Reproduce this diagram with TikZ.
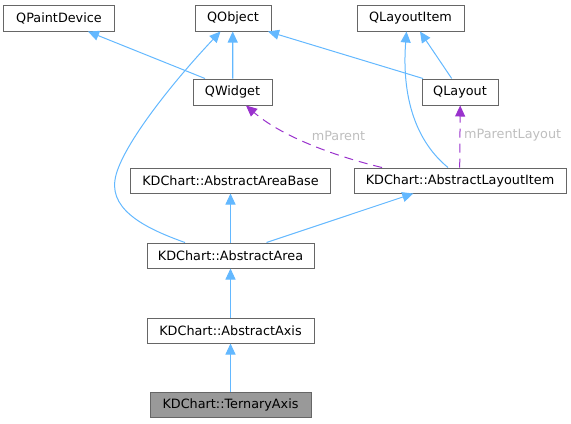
\documentclass[tikz,border=0pt]{standalone}
\usepackage{fontspec}
\setmainfont{DejaVu Sans}
\usetikzlibrary{arrows.meta}
\definecolor{edgeblue}{HTML}{63B8FF}
\definecolor{edgepurple}{HTML}{9A32CD}
\definecolor{boxgray}{HTML}{666666}
\definecolor{labelgray}{HTML}{BEBEBE}
\definecolor{fillgray}{HTML}{999999}
\tikzset{
  cls/.style={draw=boxgray, line width=1bp, inner sep=0pt, minimum height=26bp, font=\fontsize{12.8bp}{14bp}\selectfont, text=black},
  inh/.style={draw=edgeblue, line width=1bp, -{Triangle[length=11bp,width=10bp,fill=edgeblue]}},
  usage/.style={draw=edgepurple, line width=1bp, dash pattern=on 9bp off 6bp, -{Triangle[length=11bp,width=10bp,fill=edgepurple]}},
  elabel/.style={text=labelgray, font=\fontsize{12.8bp}{14bp}\selectfont, inner sep=0pt}
}
\begin{document}
\begin{tikzpicture}[x=1bp,y=-1bp]
\useasboundingbox (0,0) rectangle (571,423);
\node[cls, minimum width=110bp] (pd) at (59,18) {QPaintDevice};
\node[cls, minimum width=76bp] (qo) at (233,18) {QObject};
\node[cls, minimum width=107bp] (qli) at (410.5,18) {QLayoutItem};
\node[cls, minimum width=79bp] (qw) at (232.5,92) {QWidget};
\node[cls, minimum width=76bp] (ql) at (460,92) {QLayout};
\node[cls, minimum width=200bp, minimum height=25bp] (aab) at (230.5,180.5) {KDChart::AbstractAreaBase};
\node[cls, minimum width=212bp, minimum height=25bp] (ali) at (460,180.5) {KDChart::AbstractLayoutItem};
\node[cls, minimum width=167bp, minimum height=25bp] (aa) at (230.5,255.5) {KDChart::AbstractArea};
\node[cls, minimum width=167bp, minimum height=25bp] (ax) at (230.5,330.5) {KDChart::AbstractAxis};
\node[cls, minimum width=161bp, minimum height=25bp, fill=fillgray] (ta) at (230.5,404.5) {KDChart::TernaryAxis};

% inheritance edges
\draw[inh] ([xshift=-27.5bp]qw.north) -- ([xshift=29bp]pd.south);
\draw[inh, line width=1.15bp] ([xshift=0.2bp]qw.north) -- ([xshift=-0.3bp]qo.south);
\draw[inh] ([xshift=-37bp]ql.north) -- ([xshift=35bp]qo.south);
\draw[inh] ([xshift=-8.3bp]ql.north) -- ([xshift=9.5bp]qli.south);
\draw[inh] ([xshift=-12bp]ali.north) .. controls (412,138) and (402,90) .. ([xshift=-4bp]qli.south);
\draw[inh] ([xshift=-45.5bp]aa.north) .. controls (150,230) and (110,212) .. (115,180) .. controls (119,150) and (170,85) .. ([xshift=-12.5bp]qo.south);
\draw[inh] (aa.north) -- (aa.north |- aab.south);
\draw[inh] ([xshift=36bp]aa.north) -- ([xshift=-46.7bp]ali.south);
\draw[inh] (ax.north) -- (aa.south);
\draw[inh] (ta.north) -- (ax.south);

% usage edges
\draw[usage] ([xshift=-78bp]ali.north) .. controls (330,155) and (280,135) .. ([xshift=13.5bp]qw.south);
\draw[usage] ([xshift=-0.3bp]ali.north) -- ([xshift=0.2bp]ql.south);
\node[elabel] (lp) at (338.5,135.5) {mParent};
\node[elabel, anchor=west] (lpl) at (464,135.5) {mParentLayout};
\end{tikzpicture}
\end{document}
